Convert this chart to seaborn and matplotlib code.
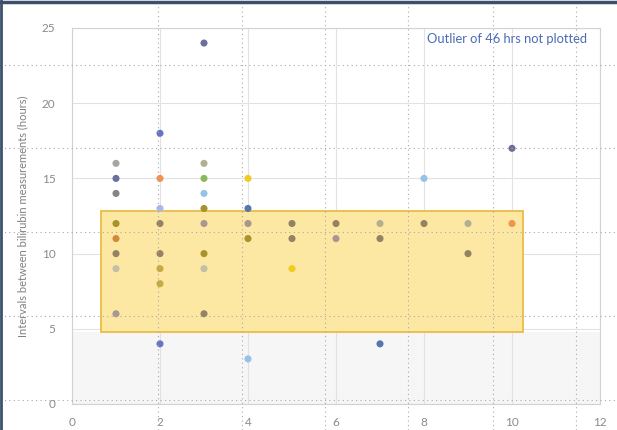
import matplotlib
matplotlib.use("Agg")
import matplotlib.pyplot as plt
import seaborn as sns
import pandas as pd
from matplotlib.patches import Rectangle
from matplotlib.lines import Line2D

# day of measurement vs interval between bilirubin measurements (hours)
day = [3, 2, 10, 1, 3, 1, 2, 3, 4, 8, 1, 3, 2, 3, 4,
       1, 2, 3, 4, 5, 6, 7, 8, 9, 10,
       1, 4, 5, 6, 7,
       1, 2, 3, 9,
       1, 2, 3, 5,
       2, 1, 3, 2, 7, 4]
interval = [24, 18, 17, 16, 16, 15, 15, 15, 15, 15, 14, 14, 13, 13, 13,
            12, 12, 12, 12, 12, 12, 12, 12, 12, 12,
            11, 11, 11, 11, 11,
            10, 10, 10, 10,
            9, 9, 9, 9,
            8, 6, 6, 4, 4, 3]
group = ["slate", "indigo", "slate", "gray", "khaki", "slate", "orange", "green", "yellow", "sky",
         "darkgray", "sky", "lavender", "olive", "steel",
         "olive", "taupe", "mauve", "mauve", "taupe", "taupe", "khaki", "taupe", "khaki", "orange",
         "rust", "olive", "taupe", "mauve", "taupe",
         "taupe", "taupe", "olive", "taupe",
         "pale", "mustard", "pale", "yellow",
         "mustard", "mauve", "taupe", "indigo", "steel", "sky"]

palette = {
    "slate": "#6c6e9e", "indigo": "#6674c6", "gray": "#a6a6a6", "darkgray": "#858585",
    "khaki": "#b3b092", "orange": "#ee9450", "green": "#8db85a", "yellow": "#f2cb22",
    "sky": "#95c2e6", "lavender": "#a9b8e8", "olive": "#a8922e", "steel": "#5577ae",
    "taupe": "#948262", "mauve": "#a89690", "rust": "#d08a3a", "pale": "#c4bea6",
    "mustard": "#c6ac3c",
}

# target window drawn as a shaded box
box_x = (0.66, 10.25)
box_y = (4.8, 12.8)

df = pd.DataFrame({"day": day, "interval": interval, "group": group})

sns.set_theme(style="white")
plt.rcParams['font.family'] = ['Lato', 'DejaVu Sans']

fig = plt.figure(figsize=(6.17, 4.30), dpi=100)
ax = fig.add_axes([72 / 617, 26 / 430, 528 / 617, 376 / 430])
ax.set_facecolor("white")

ax.axhspan(0, box_y[0], color="#f6f6f6", zorder=0, lw=0)
ax.grid(True, color="#e2e2e2", lw=0.8)
ax.set_axisbelow(True)

ax.add_patch(Rectangle((box_x[0], box_y[0]), box_x[1] - box_x[0], box_y[1] - box_y[0],
                       facecolor="#fde8a3", edgecolor="#e8bd45", lw=1.3, zorder=1.5))

sns.scatterplot(data=df, x="day", y="interval", hue="group", palette=palette,
                s=26, linewidth=0, legend=False, zorder=3, ax=ax)

ax.set_xlim(0, 12)
ax.set_ylim(0, 25)
ax.set_xticks(range(0, 13, 2))
ax.set_yticks(range(0, 26, 5))
ax.set_xticks([i * 0.2 for i in range(61)], minor=True)
ax.set_yticks([i * 0.5 for i in range(51)], minor=True)
ax.tick_params(axis="both", which="major", labelsize=8.5, colors="#8a8a8a", length=0)
ax.tick_params(axis="x", which="major", pad=9)
ax.tick_params(axis="y", which="major", pad=12)
ax.tick_params(axis="both", which="minor", length=2, color="#b8b8b8", width=0.6)
ax.set_xlabel("")
ax.set_ylabel("Intervals between bilirubin measurements (hours)", fontsize=8,
              color="#808080")
ax.yaxis.set_label_coords(-0.083, 0.5)

for s in ax.spines.values():
    s.set_color("#d2d2d2")
    s.set_linewidth(0.8)

ax.text(0.672, 0.988, "Outlier of 46 hrs not plotted", transform=ax.transAxes,
        fontsize=9.3, color="#4a6bb5", va="top", ha="left")

# slide guide lines (dotted)
for px in [158, 242, 325, 408, 493, 576]:
    fig.add_artist(Line2D([px / 617] * 2, [0, 1], transform=fig.transFigure,
                          ls=(0, (1, 3)), color="#a8a8a8", lw=0.8))
for py in [65, 148, 232, 316, 400]:
    fig.add_artist(Line2D([0, 1], [1 - py / 430] * 2, transform=fig.transFigure,
                          ls=(0, (1, 3)), color="#a8a8a8", lw=0.8))

# dark frame on top and left edge
fig.add_artist(Line2D([0, 1], [1 - 1.5 / 430] * 2, transform=fig.transFigure,
                      color="#3d4f6d", lw=2.5))
fig.add_artist(Line2D([1 / 617] * 2, [0, 1], transform=fig.transFigure,
                      color="#3d4f6d", lw=2))

fig.savefig("out.png", dpi=100)
